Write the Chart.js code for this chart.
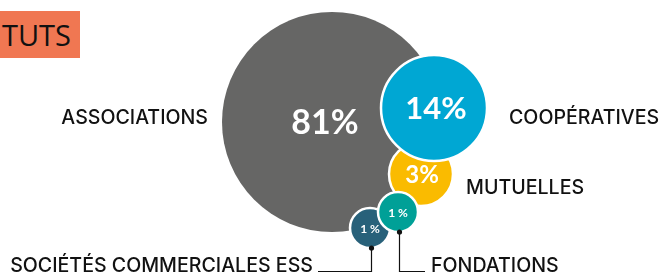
<!DOCTYPE html>
<html>
<head>
<meta charset="utf-8">
<script src="https://cdn.jsdelivr.net/npm/chart.js@4"></script>
<style>
  html, body { margin: 0; padding: 0; background: #fff; }
  #wrap { position: relative; width: 661px; height: 275px; overflow: hidden; }
  #titre {
    position: absolute; left: 0; top: 11px; height: 47px; width: 80px;
    background: #F07752; color: #111;
    font-family: "Open Sans", sans-serif; font-size: 29px; line-height: 47px;
    text-align: right; box-sizing: border-box; padding-right: 9px;
  }
  #canvas-bulles { position: absolute; left: 0; top: 0; }
</style>
</head>
<body>
<div id="wrap">
  <canvas id="canvas-bulles" width="661" height="275"></canvas>
  <div id="titre">TUTS</div>
</div>
<script>
// données : part de chaque statut (%)
const categories = ['ASSOCIATIONS', 'COOPÉRATIVES', 'MUTUELLES', 'FONDATIONS', 'SOCIÉTÉS COMMERCIALES ESS'];
const parts = [81, 14, 3, 1, 1];
const couleurs = ['#666665', '#00A7D3', '#FABB00', '#00A097', '#28617A'];

// mise en page des bulles (pixels), dans l'ordre des catégories
const bulleX = [332, 434, 421, 398, 370];
const bulleY = [122, 108, 174, 212, 228];
const bulleR = [110, 53, 32, 20, 20];
const taillePct = [34, 31, 24, 12, 12];
const decalPct = [-7, 2, 1, 0, 0];
// ordre de dessin (la dernière au-dessus)
const ordreDessin = [0, 4, 2, 3, 1];

// étiquettes des catégories : position du texte
const etiquettes = [
    { x: 208, y: 118, align: 'right' },
    { x: 509, y: 118, align: 'left' },
    { x: 466, y: 188, align: 'left' },
    { x: 431, y: 266, align: 'left' },
    { x: 313, y: 266, align: 'right' }
];

const pointsBulles = ordreDessin.map(i => ({ x: bulleX[i], y: bulleY[i], r: bulleR[i] }));

const pluginTextes = {
    id: 'textes',
    afterDatasetsDraw(chart) {
        const c = chart.ctx;
        const meta = chart.getDatasetMeta(0);
        const pos = {};
        ordreDessin.forEach((cat, k) => { pos[cat] = meta.data[k]; });

        c.save();
        // lignes de rappel fondations / sociétés commerciales
        c.strokeStyle = '#111';
        c.fillStyle = '#111';
        c.lineWidth = 1.2;
        const rappel = (cat, xFin) => {
            const el = pos[cat];
            const xb = Math.round(el.x) + 1.5;
            const yb = el.y + bulleR[cat];
            c.beginPath();
            c.moveTo(xb, yb);
            c.lineTo(xb, 271.5);
            c.lineTo(xFin, 271.5);
            c.stroke();
            c.beginPath();
            c.arc(xb, yb, 2.6, 0, Math.PI * 2);
            c.fill();
        };
        rappel(3, 425);
        rappel(4, 318);

        // pourcentages dans les bulles
        c.fillStyle = '#fff';
        c.textAlign = 'center';
        c.textBaseline = 'middle';
        parts.forEach((v, i) => {
            const el = pos[i];
            c.font = 'bold ' + taillePct[i] + 'px Lato, sans-serif';
            c.fillText(v + (i >= 3 ? ' %' : '%'), el.x + decalPct[i], el.y + 1);
        });

        // noms des statuts
        c.fillStyle = '#111';
        c.font = '500 19.6px Inter, sans-serif';
        categories.forEach((nom, i) => {
            c.textAlign = etiquettes[i].align;
            c.fillText(nom, etiquettes[i].x, etiquettes[i].y);
        });
        c.restore();
    }
};

new Chart(document.getElementById('canvas-bulles'), {
    type: 'bubble',
    data: {
        datasets: [{
            data: pointsBulles,
            backgroundColor: ordreDessin.map(i => couleurs[i]),
            borderColor: '#ffffff',
            borderWidth: ordreDessin.map(i => i === 0 ? 0 : 2.5),
            clip: false
        }]
    },
    options: {
        responsive: false,
        animation: false,
        events: [],
        layout: { autoPadding: false, padding: 0 },
        plugins: { legend: { display: false }, tooltip: { enabled: false } },
        scales: {
            x: { type: 'linear', min: 0, max: 661, display: false },
            y: { type: 'linear', min: 0, max: 275, reverse: true, display: false }
        }
    },
    plugins: [pluginTextes]
});
</script>
</body>
</html>
